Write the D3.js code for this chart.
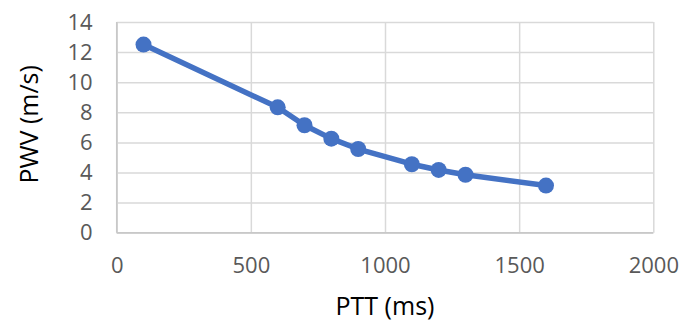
<!DOCTYPE html>
<html>
<head>
<meta charset="utf-8">
<script src="https://cdn.jsdelivr.net/npm/d3@7"></script>
<style>
  html, body { margin: 0; padding: 0; background: #fff; }
  svg { display: block; }
</style>
</head>
<body>
<div id="chart"></div>
<script>
// Pulse transit time (ms) against pulse wave velocity (m/s)
const ptt = [100, 600, 700, 800, 900, 1100, 1200, 1300, 1600];
const pwv = [12.5, 8.33, 7.14, 6.25, 5.56, 4.55, 4.17, 3.85, 3.13];
const xTicks = [0, 500, 1000, 1500, 2000];
const yTicks = [0, 2, 4, 6, 8, 10, 12, 14];
const xTitle = "PTT (ms)";
const yTitle = "PWV (m/s)";

const W = 681, H = 324;
const plot = { left: 116.7, right: 653.3, top: 22, bottom: 232.7 };
const font = "'Open Sans', 'Liberation Sans', sans-serif";

const svg = d3.select("#chart").append("svg")
  .attr("width", W).attr("height", H);

const x = d3.scaleLinear().domain([0, 2000]).range([plot.left, plot.right]);
const y = d3.scaleLinear().domain([0, 14]).range([plot.bottom, plot.top]);

// horizontal gridlines + y tick labels
const yAxis = svg.append("g")
  .attr("transform", `translate(${plot.left},0)`)
  .call(d3.axisLeft(y).tickValues(yTicks).tickFormat(d3.format("d"))
    .tickSize(-(plot.right - plot.left)).tickPadding(24));
yAxis.select(".domain").remove();
yAxis.selectAll(".tick line").attr("stroke", "#d9d9d9").attr("stroke-width", 1.5);
yAxis.selectAll(".tick text")
  .attr("font-family", font).attr("font-size", 22).attr("fill", "#595959");

// vertical gridlines + x tick labels
const xAxis = svg.append("g")
  .attr("transform", `translate(0,${plot.bottom})`)
  .call(d3.axisBottom(x).tickValues(xTicks).tickFormat(d3.format("d"))
    .tickSize(-(plot.bottom - plot.top)).tickPadding(25));
xAxis.select(".domain").remove();
xAxis.selectAll(".tick line").attr("stroke", "#d9d9d9").attr("stroke-width", 1.5);
xAxis.selectAll(".tick text")
  .attr("font-family", font).attr("font-size", 22).attr("fill", "#595959");

// axis lines
svg.append("line")
  .attr("x1", plot.left).attr("x2", plot.right)
  .attr("y1", plot.bottom).attr("y2", plot.bottom)
  .attr("stroke", "#c8c8c8").attr("stroke-width", 1.5);
svg.append("line")
  .attr("x1", plot.left).attr("x2", plot.left)
  .attr("y1", plot.top).attr("y2", plot.bottom)
  .attr("stroke", "#c8c8c8").attr("stroke-width", 1.5);

// series line and markers
const pts = ptt.map((d, i) => [d, pwv[i]]);
svg.append("path")
  .datum(pts)
  .attr("fill", "none")
  .attr("stroke", "#4472c4")
  .attr("stroke-width", 5.5)
  .attr("stroke-linejoin", "round")
  .attr("d", d3.line().x(d => x(d[0])).y(d => y(d[1])));
svg.selectAll("circle.pt").data(pts).enter().append("circle")
  .attr("class", "pt")
  .attr("cx", d => x(d[0])).attr("cy", d => y(d[1]))
  .attr("r", 8).attr("fill", "#4472c4");

// axis titles
svg.append("text")
  .attr("x", (plot.left + plot.right) / 2).attr("y", 315)
  .attr("text-anchor", "middle")
  .attr("font-family", font).attr("font-size", 25).attr("fill", "#000")
  .text(xTitle);
svg.append("text")
  .attr("transform", `translate(38,${(plot.top + plot.bottom) / 2 - 3}) rotate(-90)`)
  .attr("text-anchor", "middle")
  .attr("font-family", font).attr("font-size", 25).attr("fill", "#000")
  .text(yTitle);
</script>
</body>
</html>
